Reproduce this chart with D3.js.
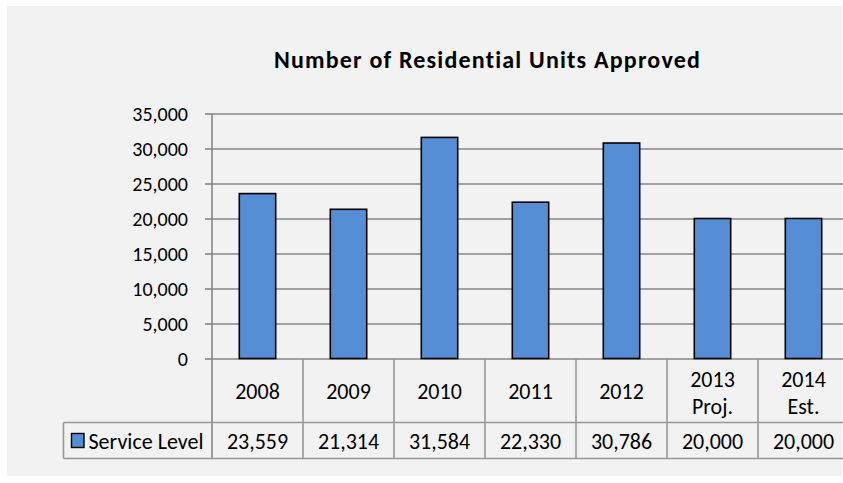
<!DOCTYPE html>
<html>
<head>
<meta charset="utf-8">
<script src="https://cdn.jsdelivr.net/npm/d3@7"></script>
<style>
  html, body { margin: 0; padding: 0; background: #ffffff; overflow: hidden; }
  svg { display: block; }
  text { font-family: Carlito, Calibri, Lato, "Open Sans", sans-serif; fill: #000; }
</style>
</head>
<body>
<svg id="chart" width="843" height="483"></svg>
<script>
const title = "Number of Residential Units Approved";
const categories = ["2008", "2009", "2010", "2011", "2012", "2013\nProj.", "2014\nEst."];
const seriesName = "Service Level";
const values = [23559, 21314, 31584, 22330, 30786, 20000, 20000];
const yTicks = [0, 5000, 10000, 15000, 20000, 25000, 30000, 35000];

const svg = d3.select("#chart");
const fmt = d3.format(",");
const FONT = "Carlito, Calibri, Lato, 'Open Sans', sans-serif";

// panel background
svg.append("rect").attr("x", 7).attr("y", 6).attr("width", 835).attr("height", 470).attr("fill", "#f2f2f2");

const plotLeft = 212, plotTop = 113.5, plotBottom = 358.5, catW = 91;
const tableRow1 = 422.5, tableRow2 = 458.5, legendLeft = 63.5;
const tableFont = 22;

const x = d3.scaleBand().domain(categories).range([plotLeft, plotLeft + catW * categories.length]).padding(0);
const y = d3.scaleLinear().domain([0, 35000]).range([plotBottom, plotTop]);

// gridlines
const grid = d3.axisLeft(y).tickValues(yTicks).tickSize(-(843 - plotLeft)).tickFormat("");
svg.append("g").attr("transform", `translate(${plotLeft},0)`).call(grid)
  .call(g => g.select(".domain").remove())
  .call(g => g.selectAll("line").attr("stroke", "#868686").attr("stroke-width", 1.6));

// y axis ticks + labels
const yAxis = d3.axisLeft(y).tickValues(yTicks).tickSize(7).tickPadding(17).tickFormat(fmt);
svg.append("g").attr("transform", `translate(${plotLeft},0)`).call(yAxis)
  .call(g => g.select(".domain").remove())
  .call(g => g.selectAll("line").attr("stroke", "#868686").attr("stroke-width", 1.6))
  .call(g => g.selectAll("text").attr("font-size", 20).attr("fill", "#000")
    .style("font-family", FONT).attr("dy", "0.36em"));

// bars
const barW = x.bandwidth() / 2.5;
svg.append("g").selectAll("rect").data(values).join("rect")
  .attr("x", (d, i) => x(categories[i]) + (x.bandwidth() - barW) / 2)
  .attr("y", d => y(d))
  .attr("width", barW)
  .attr("height", d => y(0) - y(d))
  .attr("fill", "#558ed5")
  .attr("stroke", "#000").attr("stroke-width", 1.6);

// data table
const tbl = svg.append("g");
const lineColor = "#969696";
tbl.append("line").attr("x1", plotLeft).attr("x2", plotLeft).attr("y1", plotTop).attr("y2", tableRow2)
  .attr("stroke", "#868686").attr("stroke-width", 1.6);
categories.forEach((c, i) => {
  const xr = x(c) + x.bandwidth();
  tbl.append("line").attr("x1", xr).attr("x2", xr).attr("y1", plotBottom).attr("y2", tableRow2)
    .attr("stroke", lineColor).attr("stroke-width", 1.6);
});
tbl.append("line").attr("x1", legendLeft).attr("x2", 843).attr("y1", tableRow1).attr("y2", tableRow1)
  .attr("stroke", lineColor).attr("stroke-width", 1.6);
tbl.append("line").attr("x1", legendLeft).attr("x2", 843).attr("y1", tableRow2).attr("y2", tableRow2)
  .attr("stroke", lineColor).attr("stroke-width", 1.6);
tbl.append("line").attr("x1", legendLeft).attr("x2", legendLeft).attr("y1", tableRow1).attr("y2", tableRow2)
  .attr("stroke", lineColor).attr("stroke-width", 1.6);

// category labels
categories.forEach(c => {
  const lines = c.split("\n");
  const cx = x(c) + x.bandwidth() / 2;
  const t = tbl.append("text").attr("text-anchor", "middle").attr("font-size", tableFont);
  if (lines.length === 1) {
    t.append("tspan").attr("x", cx).attr("y", 399).text(lines[0]);
  } else {
    t.append("tspan").attr("x", cx).attr("y", 387).text(lines[0]);
    t.append("tspan").attr("x", cx).attr("y", 413.5).text(lines[1]);
  }
});

// values row
values.forEach((v, i) => {
  tbl.append("text").attr("x", x(categories[i]) + x.bandwidth() / 2).attr("y", 449)
    .attr("text-anchor", "middle").attr("font-size", tableFont).text(fmt(v));
});

// legend key + name
tbl.append("rect").attr("x", 71.5).attr("y", 433.5).attr("width", 12.5).attr("height", 14)
  .attr("fill", "#558ed5").attr("stroke", "#000").attr("stroke-width", 1.4);
tbl.append("text").attr("x", 88.5).attr("y", 449).attr("font-size", tableFont).text(seriesName);

// title
svg.append("text").attr("x", 487.5).attr("y", 68).attr("text-anchor", "middle")
  .attr("font-size", 24).attr("font-weight", "bold").attr("letter-spacing", 1.2).text(title);
</script>
</body>
</html>
